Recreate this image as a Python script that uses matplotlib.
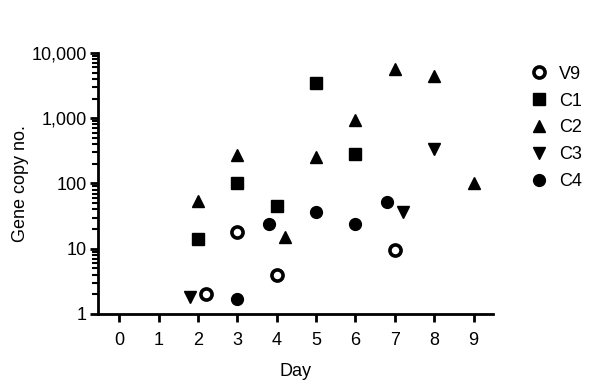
import numpy as np
import matplotlib.pyplot as plt
from matplotlib.ticker import LogLocator, FuncFormatter, NullFormatter

plt.rcParams['font.family'] = ['Liberation Sans', 'DejaVu Sans']

# data
v9_day = [2.2, 3, 4, 7]
v9_copy = [2.0, 18, 3.9, 9.6]

c1_day = [2, 3, 4, 5, 6]
c1_copy = [14, 100, 45, 3400, 280]

c2_day = [2, 3, 4.2, 5, 6, 7, 8, 9]
c2_copy = [53, 270, 15, 250, 950, 5600, 4500, 100]

c3_day = [1.8, 7.2, 8]
c3_copy = [1.8, 37, 340]

c4_day = [3, 3.8, 5, 6, 6.8]
c4_copy = [1.7, 24, 36, 24, 52]

days = list(range(0, 10))

fig = plt.figure(figsize=(6, 3.89), dpi=100)
ax = fig.add_axes([0.163, 0.193, 0.659, 0.671])

ax.plot(v9_day, v9_copy, 'o', ms=8, mfc='white', mec='black', mew=2.6, label='V9', ls='none')
ax.plot(c1_day, c1_copy, 's', ms=8.5, color='black', label='C1', ls='none')
ax.plot(c2_day, c2_copy, '^', ms=8.5, color='black', label='C2', ls='none')
ax.plot(c3_day, c3_copy, 'v', ms=8.5, color='black', label='C3', ls='none')
ax.plot(c4_day, c4_copy, 'o', ms=8.5, color='black', label='C4', ls='none')

ax.set_yscale('log')
ax.set_ylim(1, 10000)
ax.set_xlim(-0.55, 9.5)
ax.set_xticks(days)
ax.yaxis.set_major_locator(LogLocator(base=10, numticks=10))
ax.yaxis.set_minor_locator(LogLocator(base=10, subs=np.arange(2, 10), numticks=10))
ax.yaxis.set_minor_formatter(NullFormatter())
ax.yaxis.set_major_formatter(FuncFormatter(lambda v, p: f'{int(round(v)):,}'))

for s in ['top', 'right']:
    ax.spines[s].set_visible(False)
for s in ['left', 'bottom']:
    ax.spines[s].set_linewidth(2)

ax.tick_params(axis='both', which='major', direction='out', width=2, length=6, labelsize=13)
ax.tick_params(axis='y', which='minor', direction='out', width=1.5, length=4)
ax.tick_params(axis='x', pad=7)
ax.tick_params(axis='y', pad=2)

ax.set_xlabel('Day', fontsize=13, labelpad=10)
ax.set_ylabel('Gene copy no.', fontsize=13, labelpad=2)

ax.legend(loc='upper left', bbox_to_anchor=(0.868, 0.85), bbox_transform=fig.transFigure,
          frameon=False, fontsize=13, handletextpad=0.5, labelspacing=0.55,
          handlelength=1.2, borderaxespad=0)

fig.savefig('out.png', dpi=100)
